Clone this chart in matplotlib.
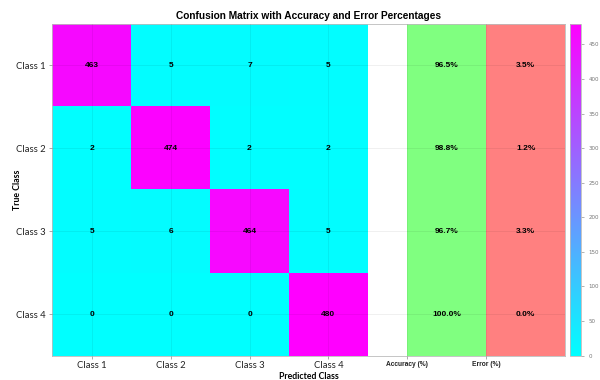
import numpy as np
import matplotlib
matplotlib.use("Agg")
import matplotlib.pyplot as plt
from matplotlib.patches import Rectangle

# confusion matrix values (rows = true class, cols = predicted class)
classes = ["Class 1", "Class 2", "Class 3", "Class 4"]
cm = np.array([
    [463, 5, 7, 5],
    [2, 474, 2, 2],
    [5, 6, 464, 5],
    [0, 0, 0, 480],
])
accuracy = [96.5, 98.8, 96.7, 100.0]
error = [3.5, 1.2, 3.3, 0.0]
cbar_ticks = [0, 50, 100, 150, 200, 250, 300, 350, 400, 450]

fig = plt.figure(figsize=(6, 3.8), dpi=100)
ax = fig.add_axes([0.087, 0.064, 0.855, 0.874])
cax = fig.add_axes([0.95, 0.064, 0.018, 0.874])

n = len(classes)
im = ax.imshow(cm, cmap="cool", vmin=cm.min(), vmax=cm.max(), aspect="auto",
               extent=(0.5, n + 0.5, n + 0.5, 0.5), interpolation="nearest")

# accuracy / error columns drawn as patches next to the matrix
for i in range(n):
    ax.add_patch(Rectangle((5.0, i + 0.5), 1.0, 1.0, facecolor=(0.5, 1.0, 0.5), edgecolor="none"))
    ax.add_patch(Rectangle((6.0, i + 0.5), 1.0, 1.0, facecolor=(1.0, 0.5, 0.5), edgecolor="none"))

num_font = dict(family="Liberation Sans", fontsize=6, fontweight="bold", color="black")
for i in range(n):
    for j in range(n):
        ax.text(j + 1, i + 1, str(cm[i, j]), ha="center", va="center", **num_font)
    ax.text(5.5, i + 1, f"{accuracy[i]:.1f}%", ha="center", va="center", **num_font)
    ax.text(6.5, i + 1, f"{error[i]:.1f}%", ha="center", va="center", **num_font)

ax.set_xlim(0.5, 7.0)
ax.set_ylim(n + 0.5, 0.5)

ax.set_xticks([1, 2, 3, 4, 5, 6])
ax.set_xticklabels(classes + ["Accuracy (%)", "Error (%)"])
ax.set_yticks([1, 2, 3, 4])
ax.set_yticklabels(classes)
for lab in ax.get_xticklabels() + ax.get_yticklabels():
    lab.set_family("Lato")
    lab.set_fontsize(6.8)
    lab.set_color("#222222")
for lab in ax.get_xticklabels()[4:]:
    lab.set_family("Liberation Sans")
    lab.set_fontsize(4.8)
    lab.set_fontweight("bold")
ax.tick_params(direction="out", length=2, width=0.5, color="#888888", pad=2.5)
ax.tick_params(axis="x", pad=1.5)

ax.grid(True, color="black", alpha=0.07, linewidth=0.6)
ax.set_axisbelow(False)
for sp in ax.spines.values():
    sp.set_color("#bbbbbb")
    sp.set_linewidth(0.6)

ax.set_title("Confusion Matrix with Accuracy and Error Percentages",
             family="Liberation Sans", fontsize=7.3, fontweight="bold", pad=3)
ax.set_xlabel("Predicted Class", family="Lato", fontsize=6.3, fontweight="bold", va="center")
ax.set_ylabel("True Class", family="Lato", fontsize=6.3, fontweight="bold", va="center")
ax.xaxis.set_label_coords(0.5, -0.062)
ax.yaxis.set_label_coords(-0.068, 0.5)

cb = fig.colorbar(im, cax=cax, ticks=cbar_ticks)
cb.ax.tick_params(labelsize=4, colors="#777777", length=2, width=0.4)
cb.outline.set_edgecolor("#bbbbbb")
cb.outline.set_linewidth(0.6)

fig.savefig("out.png", dpi=100)
